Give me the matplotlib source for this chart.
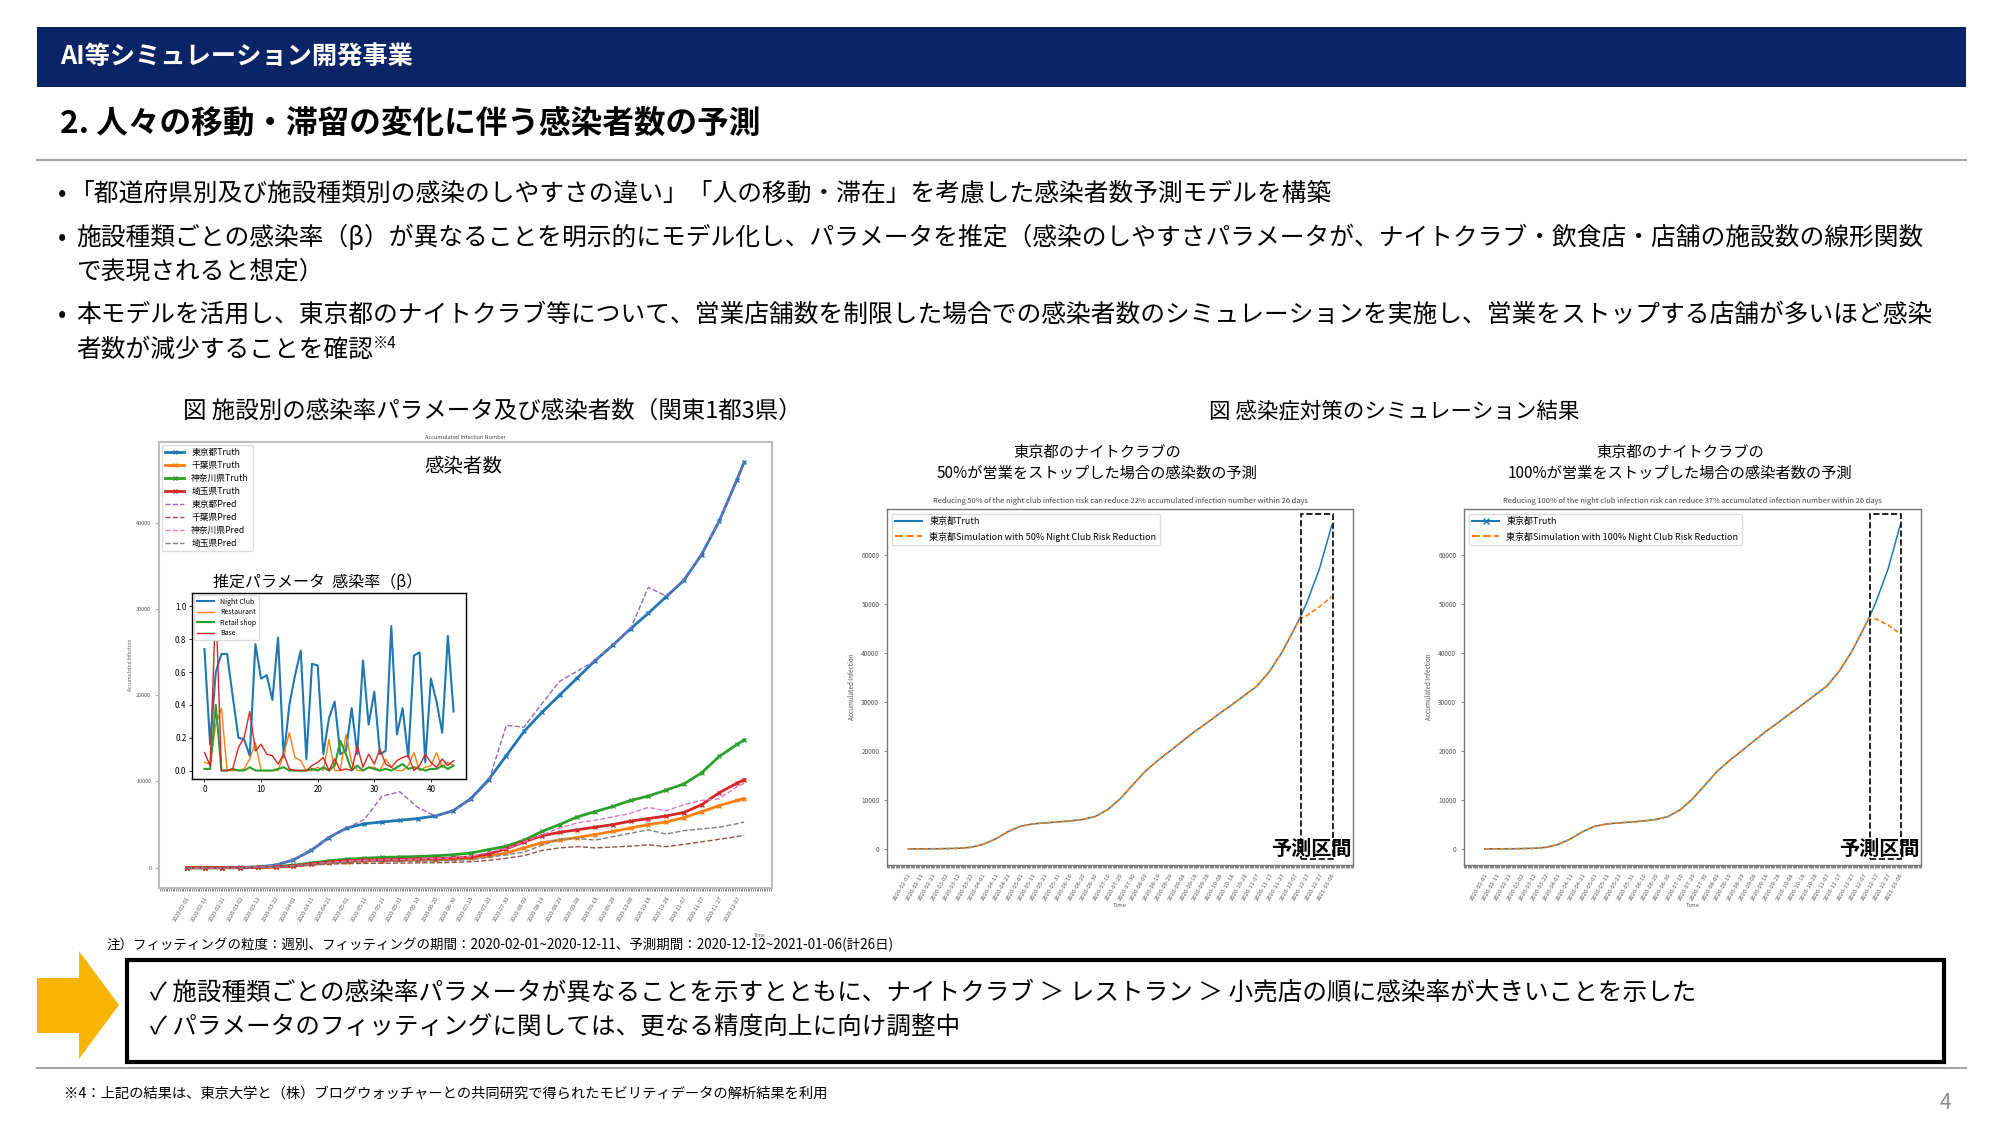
import numpy as np
import pandas as pd
import matplotlib
matplotlib.use("Agg")
import matplotlib.pyplot as plt
import matplotlib.dates as mdates
from matplotlib.patches import Rectangle, Polygon
from matplotlib.lines import Line2D

plt.rcParams['font.family'] = ['Noto Sans CJK JP', 'DejaVu Sans']

W, H = 2000, 1125

# ---- accumulated infections, every 10 days from 2020-02-01, last point 2020-12-11
dates = [d.strftime("%Y-%m-%d") for d in pd.date_range("2020-02-01", "2020-12-07", freq="10D")] + ["2020-12-11"]
tokyo_truth = [0, 0, 10, 40, 100, 300, 900, 2000, 3500, 4600, 5100, 5300, 5500, 5700, 6000, 6600, 8000,
               10200, 13000, 15800, 18000, 20000, 22000, 24000, 25800, 27700, 29500, 31400, 33300, 36300,
               40200, 45000, 47000]
chiba_truth = [0, 0, 2, 10, 30, 80, 180, 380, 550, 700, 780, 820, 850, 880, 920, 980, 1100, 1350, 1700,
               2300, 2900, 3200, 3500, 3850, 4200, 4600, 5000, 5300, 5800, 6500, 7200, 7800, 8000]
kanagawa_truth = [0, 0, 5, 20, 60, 150, 300, 550, 800, 1000, 1100, 1200, 1250, 1300, 1380, 1500, 1700,
                  2100, 2500, 3200, 4200, 5000, 5900, 6500, 7100, 7800, 8300, 9000, 9700, 11000, 12900,
                  14300, 14800]
saitama_truth = [0, 0, 3, 10, 40, 100, 200, 450, 650, 800, 880, 930, 970, 1000, 1050, 1120, 1250, 1600,
                 2200, 3000, 3700, 4100, 4400, 4700, 5000, 5400, 5700, 6000, 6400, 7300, 8700, 9800, 10200]
tokyo_pred = [0, 0, 10, 40, 100, 300, 900, 2000, 3500, 4600, 5600, 8300, 8800, 7000, 6000, 6600, 7900,
              10000, 16500, 16300, 19000, 21600, 22800, 24000, 25800, 27700, 32500, 31500, 33300, 36300,
              40200, 45000, 47000]
chiba_pred = [0, 0, 0, 10, 30, 80, 150, 300, 420, 480, 500, 520, 540, 560, 580, 620, 700, 850, 1100,
              1400, 2000, 2300, 2450, 2300, 2400, 2500, 2650, 2450, 2700, 3000, 3300, 3600, 3800]
kanagawa_pred = [0, 0, 0, 10, 40, 100, 220, 420, 620, 780, 860, 920, 960, 1000, 1060, 1150, 1300, 1800,
                 2200, 3000, 3800, 4600, 5200, 5500, 5900, 6300, 7000, 6600, 7300, 7800, 8000, 9400, 9800]
saitama_pred = [0, 0, 0, 10, 40, 100, 200, 380, 520, 620, 680, 720, 740, 760, 790, 830, 950, 1200, 1500,
                1800, 2600, 3300, 3400, 3200, 3600, 4000, 4400, 3900, 4300, 4500, 4700, 5100, 5300]

# ---- weekly infection-rate parameters (beta)
week = list(range(45))
beta_night = [0.74, 0.16, 0.60, 0.71, 0.71, 0.45, 0.20, 0.19, 0.09, 0.77, 0.56, 0.58, 0.43, 0.81, 0.08,
              0.40, 0.58, 0.73, 0.07, 0.65, 0.64, 0.10, 0.32, 0.42, 0.10, 0.12, 0.38, 0.10, 0.67, 0.28,
              0.48, 0.10, 0.12, 0.88, 0.22, 0.38, 0.08, 0.70, 0.72, 0.05, 0.56, 0.42, 0.23, 0.82, 0.36]
beta_rest = [0.05, 0.04, 0.28, 0.38, 0.00, 0.00, 0.00, 0.01, 0.07, 0.17, 0.00, 0.00, 0.00, 0.00, 0.10,
             0.23, 0.08, 0.06, 0.00, 0.00, 0.02, 0.00, 0.19, 0.00, 0.00, 0.22, 0.05, 0.00, 0.00, 0.02,
             0.02, 0.00, 0.07, 0.02, 0.00, 0.00, 0.03, 0.11, 0.00, 0.02, 0.03, 0.11, 0.02, 0.05, 0.03]
beta_retail = [0.01, 0.01, 0.40, 0.00, 0.00, 0.01, 0.00, 0.00, 0.02, 0.00, 0.00, 0.00, 0.00, 0.01, 0.02,
               0.00, 0.00, 0.00, 0.00, 0.01, 0.00, 0.02, 0.00, 0.03, 0.18, 0.10, 0.00, 0.03, 0.00, 0.02,
               0.01, 0.00, 0.01, 0.00, 0.02, 0.04, 0.01, 0.02, 0.01, 0.00, 0.01, 0.01, 0.03, 0.01, 0.03]
beta_base = [0.11, 0.03, 1.03, 0.00, 0.00, 0.01, 0.14, 0.20, 0.36, 0.12, 0.16, 0.10, 0.09, 0.04, 0.10,
             0.01, 0.00, 0.00, 0.00, 0.03, 0.05, 0.08, 0.00, 0.07, 0.00, 0.01, 0.00, 0.15, 0.02, 0.10,
             0.04, 0.13, 0.04, 0.02, 0.06, 0.08, 0.09, 0.00, 0.03, 0.10, 0.05, 0.02, 0.07, 0.03, 0.06]

# ---- simulation (prediction period 2020-12-12 ~ 2021-01-06)
tail_dates = ["2020-12-17", "2020-12-27", "2021-01-06"]
tokyo_truth_tail = [50400, 57200, 66200]
sim50_tail = [47700, 49500, 51600]
sim100_tail = [47000, 45800, 44000]

fig = plt.figure(figsize=(20, 11.25), dpi=100)


def box(l, t, r, b):
    return [l / W, 1 - b / H, (r - l) / W, (b - t) / H]


def txt(x, y, s, **kw):
    kw.setdefault("va", "center")
    return fig.text(x / W, 1 - y / H, s, **kw)


def hline(y, x0=37, x1=1966):
    fig.add_artist(Line2D([x0 / W, x1 / W], [1 - y / H] * 2, color="#a6a6a6", lw=1.5))


# header
fig.add_artist(Rectangle((37 / W, 1 - 87 / H), 1929 / W, 60 / H, transform=fig.transFigure,
                         color="#0b2466", lw=0))
txt(60, 57, "AI等シミュレーション開発事業", color="white", fontsize=18.2, fontweight="bold")
txt(60, 124, "2. 人々の移動・滞留の変化に伴う感染者数の予測", fontsize=22.8, fontweight="bold")
hline(160)

bfs = 17.8
txt(58, 194, "•", fontsize=bfs)
txt(70, 194, "「都道府県別及び施設種類別の感染のしやすさの違い」「人の移動・滞在」を考慮した感染者数予測モデルを構築", fontsize=bfs)
txt(58, 238, "•", fontsize=bfs)
txt(76, 238, "施設種類ごとの感染率（β）が異なることを明示的にモデル化し、パラメータを推定（感染のしやすさパラメータが、ナイトクラブ・飲食店・店舗の施設数の線形関数", fontsize=bfs)
txt(76, 272, "で表現されると想定）", fontsize=bfs)
txt(58, 315, "•", fontsize=bfs)
txt(76, 315, "本モデルを活用し、東京都のナイトクラブ等について、営業店舗数を制限した場合での感染者数のシミュレーションを実施し、営業をストップする店舗が多いほど感染", fontsize=bfs)
t = txt(76, 350, "者数が減少することを確認", fontsize=bfs)
bb = t.get_window_extent(renderer=fig.canvas.get_renderer())
fig.text(bb.x1 / W, 1 - 343 / H, "※4", fontsize=11, va="center")

txt(183, 411, "図 施設別の感染率パラメータ及び感染者数（関東1都3県）", fontsize=16.9)
txt(1209, 411, "図 感染症対策のシミュレーション結果", fontsize=15.5)

# ---- left chart: accumulated infections in Kanto
x = pd.to_datetime(dates)
ax = fig.add_axes(box(159, 442, 772, 888))
ax.plot(x, tokyo_truth, "-x", color="C0", lw=2, ms=3, label="東京都Truth")
ax.plot(x, chiba_truth, "-x", color="C1", lw=2, ms=3, label="千葉県Truth")
ax.plot(x, kanagawa_truth, "-x", color="C2", lw=2, ms=3, label="神奈川県Truth")
ax.plot(x, saitama_truth, "-x", color="C3", lw=2, ms=3, label="埼玉県Truth")
ax.plot(x, tokyo_pred, "--", color="C4", lw=1, label="東京都Pred")
ax.plot(x, chiba_pred, "--", color="C5", lw=1, label="千葉県Pred")
ax.plot(x, kanagawa_pred, "--", color="C6", lw=1, label="神奈川県Pred")
ax.plot(x, saitama_pred, "--", color="C7", lw=1, label="埼玉県Pred")
ax.set_xticks(pd.date_range("2020-02-01", "2020-12-07", freq="10D"))
ax.xaxis.set_major_formatter(mdates.DateFormatter("%Y-%m-%d"))
ax.xaxis.set_minor_locator(mdates.DayLocator())
ax.tick_params(axis="x", which="both", length=2, width=0.5, labelsize=4, colors="#555555")
ax.tick_params(axis="y", length=2, width=0.5, labelsize=4, colors="#555555")
plt.setp(ax.get_xticklabels(), rotation=60, ha="right", rotation_mode="anchor")
ax.set_yticks([0, 10000, 20000, 30000, 40000])
ax.set_title("Accumulated Infection Number", fontsize=4, pad=2, color="#444444")
ax.set_ylabel("Accumulated Infection", fontsize=3.5, color="#555555", labelpad=2)
ax.set_xlabel("Time", fontsize=3.5, color="#555555", labelpad=0)
ax.xaxis.set_label_coords(0.98, -0.1)
for s in ax.spines.values():
    s.set_color("#bdbdbd")
    s.set_linewidth(1.5)
ax.legend(loc="upper left", fontsize=6.3, handlelength=2.2, labelspacing=0.45, borderaxespad=0.3,
          framealpha=1, edgecolor="#dddddd")
txt(463, 467, "感染者数", fontsize=14, ha="center")
txt(213, 582, "推定パラメータ  感染率（β）", fontsize=11.5)

# inset: beta per facility type
axi = fig.add_axes(box(192, 593, 466, 779))
axi.plot(week, beta_night, color="C0", lw=1.5, label="Night Club")
axi.plot(week, beta_rest, color="C1", lw=1, label="Restaurant")
axi.plot(week, beta_retail, color="C2", lw=1.5, label="Retail shop")
axi.plot(week, beta_base, color="C3", lw=1, label="Base")
axi.set_yticks([0.0, 0.2, 0.4, 0.6, 0.8, 1.0])
axi.set_xticks([0, 10, 20, 30, 40])
axi.tick_params(labelsize=5.8, length=2, width=0.6, pad=2)
for s in axi.spines.values():
    s.set_color("black")
    s.set_linewidth(1)
axi.legend(loc="upper left", fontsize=5, handlelength=2.5, labelspacing=0.35, borderaxespad=0.3,
           framealpha=1, edgecolor="#dddddd")

# ---- simulation charts
xs = pd.to_datetime(dates + tail_dates)
truth_full = tokyo_truth + tokyo_truth_tail


def sim_chart(l, r, cx, head2, subtitle, sim_tail, sim_label, truth_marker):
    txt(cx, 452, "東京都のナイトクラブの", fontsize=11, ha="center")
    txt(cx, 473, head2, fontsize=11, ha="center")
    a = fig.add_axes(box(l, 509, r, 865))
    a.plot(xs, truth_full, color="C0", lw=1.1)
    a.plot(xs, tokyo_truth + sim_tail, "--", color="C1", lw=1.2, dashes=(3, 1.5))
    a.set_xticks(pd.date_range("2020-02-01", "2021-01-06", freq="10D"))
    a.xaxis.set_major_formatter(mdates.DateFormatter("%Y-%m-%d"))
    a.xaxis.set_minor_locator(mdates.DayLocator())
    a.tick_params(axis="x", which="both", length=2, width=0.5, labelsize=4.3, colors="#555555")
    a.tick_params(axis="y", length=2, width=0.5, labelsize=4.6, colors="#555555")
    plt.setp(a.get_xticklabels(), rotation=60, ha="right", rotation_mode="anchor")
    a.set_yticks(range(0, 60001, 10000))
    a.set_title(subtitle, fontsize=5.4, pad=4, color="#444444")
    a.set_ylabel("Accumulated Infection", fontsize=4.5, color="#555555")
    a.set_xlabel("Time", fontsize=4.3, color="#555555", labelpad=1)
    for s in a.spines.values():
        s.set_color("#777777")
        s.set_linewidth(1)
    handles = [Line2D([], [], color="C0", lw=1.5, marker=truth_marker, ms=4),
               Line2D([], [], color="C1", lw=1.5, ls="--")]
    a.legend(handles, ["東京都Truth", sim_label], loc="upper left", fontsize=6.5, handlelength=3,
             labelspacing=0.6, borderaxespad=0.5, framealpha=1, edgecolor="#dddddd")
    x0 = mdates.date2num(pd.Timestamp("2020-12-12"))
    x1 = mdates.date2num(pd.Timestamp("2021-01-07"))
    a.add_patch(Rectangle((x0, -2000), x1 - x0, 70500, fill=False, ec="black", lw=1.2, ls="--",
                          clip_on=False, zorder=5))
    a.text(mdates.date2num(pd.Timestamp("2021-01-22")), 0, "予測区間", fontsize=14.5, fontweight="bold",
           ha="right", va="center", clip_on=False, zorder=6)


sim_chart(887, 1353, 1097, "50%が営業をストップした場合の感染数の予測",
          "Reducing 50% of the night club infection risk can reduce 22% accumulated infection number within 26 days",
          sim50_tail, "東京都Simulation with 50% Night Club Risk Reduction", None)
sim_chart(1464, 1921, 1680, "100%が営業をストップした場合の感染者数の予測",
          "Reducing 100% of the night club infection risk can reduce 37% accumulated infection number within 26 days",
          sim100_tail, "東京都Simulation with 100% Night Club Risk Reduction", "x")

# ---- bottom section
txt(106, 945, "注）フィッティングの粒度：週別、フィッティングの期間：2020-02-01~2020-12-11、予測期間：2020-12-12~2021-01-06(計26日)",
    fontsize=9.7)
arrow = [(37, 978), (79, 978), (79, 951), (119, 1005), (79, 1059), (79, 1033), (37, 1033)]
fig.add_artist(Polygon([(px / W, 1 - py / H) for px, py in arrow], closed=True,
                       transform=fig.transFigure, color="#f7b500", lw=0))
fig.add_artist(Rectangle((127 / W, 1 - 1062 / H), 1817 / W, 102 / H, transform=fig.transFigure,
                         fill=False, ec="black", lw=3))
txt(150, 993, "✓ 施設種類ごとの感染率パラメータが異なることを示すとともに、ナイトクラブ ＞ レストラン ＞ 小売店の順に感染率が大きいことを示した",
    fontsize=17.7)
txt(150, 1028, "✓ パラメータのフィッティングに関しては、更なる精度向上に向け調整中", fontsize=17.7)
hline(1068)
txt(64, 1094, "※4：上記の結果は、東京大学と（株）ブログウォッチャーとの共同研究で得られたモビリティデータの解析結果を利用",
    fontsize=10.3)
txt(1940, 1103, "4", fontsize=15, color="#8c8c8c")

fig.savefig("out.png", dpi=100)
